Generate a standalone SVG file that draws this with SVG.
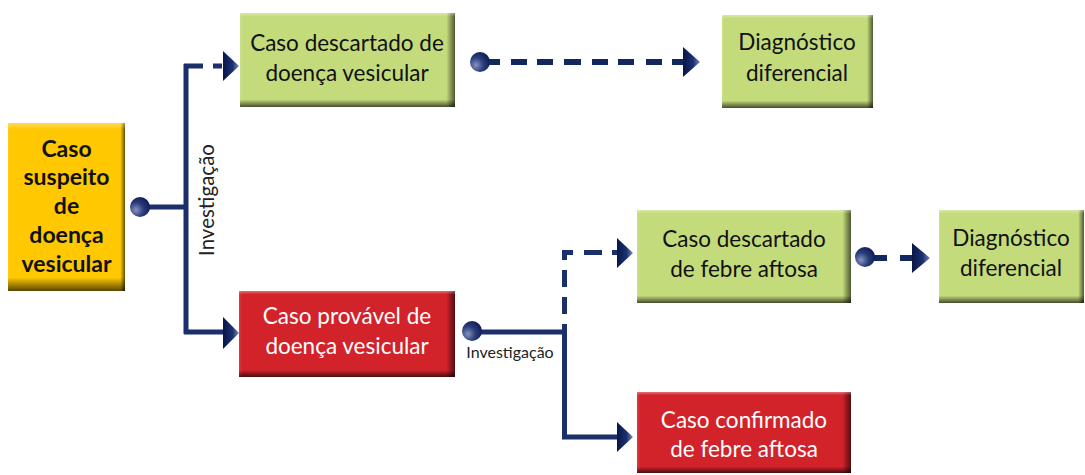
<svg xmlns="http://www.w3.org/2000/svg" width="1085" height="475" viewBox="0 0 1085 475">
<defs>
<linearGradient id="gR" x1="0" y1="0" x2="1" y2="0">
<stop offset="0" stop-color="#fff" stop-opacity="0.12"/>
<stop offset="0.015" stop-color="#fff" stop-opacity="0"/>
<stop offset="0.96" stop-color="#000" stop-opacity="0"/>
<stop offset="1" stop-color="#000" stop-opacity="0.6"/>
</linearGradient>
<linearGradient id="gB" x1="0" y1="0" x2="0" y2="1">
<stop offset="0" stop-color="#fff" stop-opacity="0.35"/>
<stop offset="0.04" stop-color="#fff" stop-opacity="0"/>
<stop offset="0.92" stop-color="#000" stop-opacity="0"/>
<stop offset="1" stop-color="#000" stop-opacity="0.65"/>
</linearGradient>
<linearGradient id="gA" x1="0" y1="0" x2="1" y2="0">
<stop offset="0" stop-color="#081648"/>
<stop offset="0.6" stop-color="#1c3170"/>
<stop offset="1" stop-color="#7d8ab5"/>
</linearGradient>
<radialGradient id="gD" cx="0.3" cy="0.65" r="0.75">
<stop offset="0" stop-color="#8793bd"/>
<stop offset="0.5" stop-color="#2a3d7c"/>
<stop offset="1" stop-color="#0d1b50"/>
</radialGradient>
<style>
.yel{fill:#FFC800}
.grn{fill:#C3DB7B}
.red{fill:#D2222A}
.sh1{fill:url(#gR)}
.sh2{fill:url(#gB)}
.t{font-family:Lato,"Noto Sans",sans-serif;font-size:22.5px;text-anchor:middle;fill:#111}
.tw{fill:#fff}
.tb{font-weight:bold;font-size:23px}
.ln{fill:none;stroke:#1a2f6b;stroke-width:5}
.dl{fill:none;stroke:#13275f;stroke-width:6}
.ar{fill:url(#gA)}
.dot{fill:url(#gD)}
.lbl{font-family:Lato,"Noto Sans",sans-serif;fill:#222;text-anchor:middle}
</style>
</defs>
<g id="connectors">
<path class="ln" d="M148,207 H186 M186,64 V334 M184,66 H203 M213,66 H222 M184,332 H225"/>
<polygon class="ar" points="223,51 239,66 223,81"/>
<polygon class="ar" points="223,317 239,333 223,349"/>
<path class="dl" d="M488,62 H500 M511,62 H527 M537,62 H553 M564,62 H581 M592,62 H608 M618,62 H634 M646,62 H662 M672,62 H685"/>
<polygon class="ar" points="683,47 700,62 683,77"/>
<path class="ln" d="M480,332 H567 M564.5,332 V437 H620 M564.5,332 V324 M564.5,314 V297 M564.5,287 V270 M564.5,260 V252.5 H573 M584,252.5 H602 M612,252.5 H619"/>
<polygon class="ar" points="617,422 633,437 617,452"/>
<polygon class="ar" points="617,238 633,253 617,268"/>
<path class="dl" d="M872,258 H887 M900,258 H914"/>
<polygon class="ar" points="912,243 930,258 912,273"/>
<circle class="dot" cx="140" cy="207" r="10"/>
<circle class="dot" cx="480" cy="62" r="10"/>
<circle class="dot" cx="472" cy="331" r="10"/>
<circle class="dot" cx="865" cy="257" r="10"/>
<text class="lbl" font-size="20.5" transform="translate(214,200) rotate(-90)">Investigação</text>
<text class="lbl" font-size="16" x="510" y="358">Investigação</text>
</g>
<g id="suspeito">
<rect class="yel" x="8" y="123" width="117" height="168"/>
<rect class="sh1" x="8" y="123" width="117" height="168"/>
<rect class="sh2" x="8" y="123" width="117" height="168"/>
<text class="t tb" x="66.5" y="157">Caso</text>
<text class="t tb" x="66.5" y="185">suspeito</text>
<text class="t tb" x="66.5" y="214">de</text>
<text class="t tb" x="66.5" y="243">doença</text>
<text class="t tb" x="66.5" y="272">vesicular</text>
</g>
<g id="descartado-vesicular">
<rect class="grn" x="240" y="13" width="215" height="94"/>
<rect class="sh1" x="240" y="13" width="215" height="94"/>
<rect class="sh2" x="240" y="13" width="215" height="94"/>
<text class="t" x="347" y="51">Caso descartado de</text>
<text class="t" x="347" y="81">doença vesicular</text>
</g>
<g id="diagnostico-1">
<rect class="grn" x="722" y="15" width="151" height="93"/>
<rect class="sh1" x="722" y="15" width="151" height="93"/>
<rect class="sh2" x="722" y="15" width="151" height="93"/>
<text class="t" x="797" y="50">Diagnóstico</text>
<text class="t" x="797" y="81">diferencial</text>
</g>
<g id="provavel">
<rect class="red" x="239" y="291" width="216" height="86"/>
<rect class="sh1" x="239" y="291" width="216" height="86"/>
<rect class="sh2" x="239" y="291" width="216" height="86"/>
<text class="t tw" x="347" y="324">Caso provável de</text>
<text class="t tw" x="347" y="354">doença vesicular</text>
</g>
<g id="descartado-aftosa">
<rect class="grn" x="637" y="210" width="214" height="93"/>
<rect class="sh1" x="637" y="210" width="214" height="93"/>
<rect class="sh2" x="637" y="210" width="214" height="93"/>
<text class="t" x="744" y="247">Caso descartado</text>
<text class="t" x="744" y="277">de febre aftosa</text>
</g>
<g id="diagnostico-2">
<rect class="grn" x="939" y="210" width="145" height="93"/>
<rect class="sh1" x="939" y="210" width="145" height="93"/>
<rect class="sh2" x="939" y="210" width="145" height="93"/>
<text class="t" x="1011" y="246">Diagnóstico</text>
<text class="t" x="1011" y="276">diferencial</text>
</g>
<g id="confirmado">
<rect class="red" x="637" y="392" width="214" height="81"/>
<rect class="sh1" x="637" y="392" width="214" height="81"/>
<rect class="sh2" x="637" y="392" width="214" height="81"/>
<text class="t tw" x="744" y="428">Caso confirmado</text>
<text class="t tw" x="744" y="457">de febre aftosa</text>
</g>
</svg>
